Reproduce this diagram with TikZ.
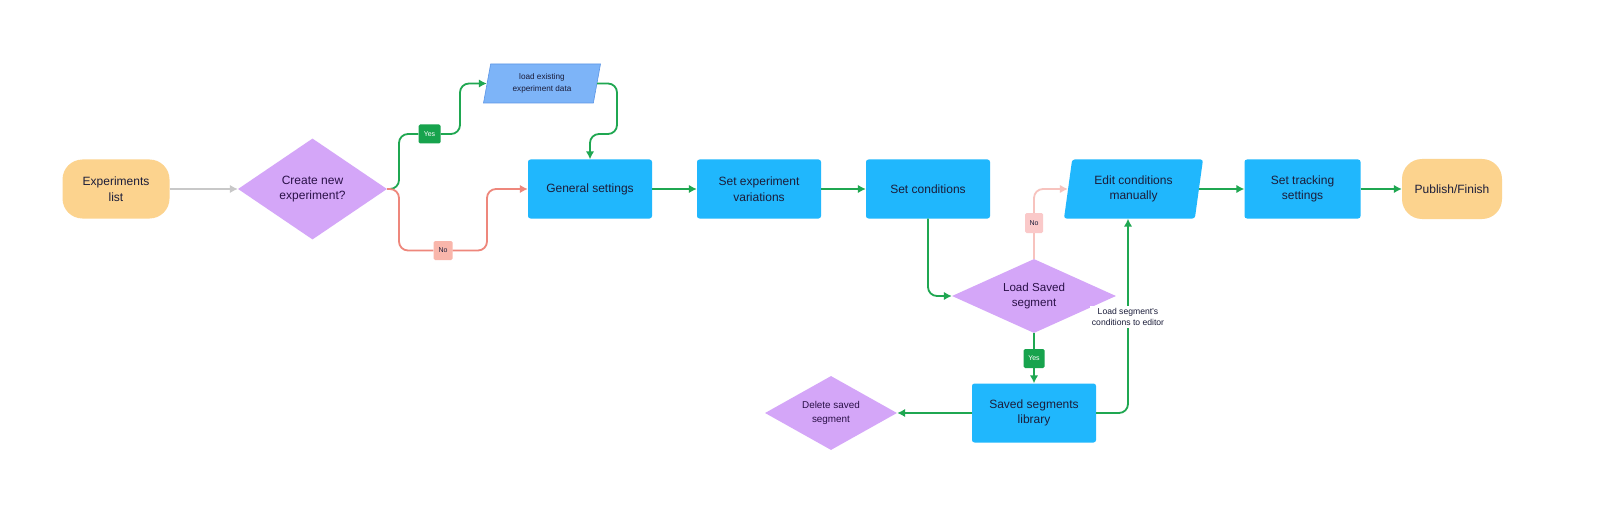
\documentclass[tikz,border=0pt]{standalone}
\usepackage{fontspec}
\setmainfont{Liberation Sans}
\usetikzlibrary{shapes.geometric,arrows.meta}
\definecolor{cOrange}{HTML}{FCD38E}
\definecolor{cPurple}{HTML}{D4A6F8}
\definecolor{cBlue}{HTML}{20B7FD}
\definecolor{cLoad}{HTML}{7DB4F8}
\definecolor{cLoadB}{HTML}{5B95E6}
\definecolor{cGreen}{HTML}{1FA751}
\definecolor{cGreenL}{HTML}{17A34D}
\definecolor{cRed}{HTML}{EE877C}
\definecolor{cRedL}{HTML}{F9B6AB}
\definecolor{cPink}{HTML}{F7C3BE}
\definecolor{cPinkL}{HTML}{FAC9C9}
\definecolor{cGrey}{HTML}{C8C8C8}
\definecolor{cText}{HTML}{1B1D3A}
\definecolor{cPText}{HTML}{2A1148}
\begin{document}
\begin{tikzpicture}[x=1pt,y=-1pt,
  fbig/.style={font=\fontsize{12}{15.5}\selectfont},
  term/.style={fill=cOrange, rounded corners=20pt, minimum height=59pt, inner sep=0pt, align=center, fbig, text=cText},
  proc/.style={fill=cBlue, rounded corners=2.5pt, minimum height=59pt, inner sep=0pt, align=center, fbig, text=cText},
  dec/.style={diamond, fill=cPurple, inner sep=0pt, align=center, text=cPText},
  io/.style={trapezium, trapezium left angle=#1, trapezium right angle=180-#1, trapezium stretches body, inner sep=0pt, align=center},
  lbl/.style={rounded corners=1.5pt, inner sep=0pt, font=\fontsize{7}{8}\selectfont},
  yeslbl/.style={lbl, fill=cGreenL, text=white, minimum width=22pt, minimum height=19pt},
  nolbl/.style={lbl, fill=#1, text=cText, minimum width=19pt, minimum height=19pt},
  conn/.style={line width=1.8pt, rounded corners=9pt},
  arr/.style={conn, -{Latex[length=8pt,width=8.5pt]}}
]
\useasboundingbox[fill=white] (0,0) rectangle (1600,513);

% nodes
\node[term, minimum width=107pt] (EL) at (116,189) {Experiments\\list};
\node[dec, fbig, minimum width=149pt, minimum height=101pt, aspect=1.5] (CNE) at (312.5,189) {Create new\\experiment?};
\node[io=70, fill=cLoad, draw=cLoadB, line width=0.6pt, minimum width=117pt, minimum height=39pt,
      text=cText, font=\fontsize{8.2}{12}\selectfont] (LED) at (542,83.5) {load existing\\experiment data};
\node[proc, minimum width=124pt] (GS) at (590,189) {General settings};
\node[proc, minimum width=124pt] (SEV) at (759,189) {Set experiment\\variations};
\node[proc, minimum width=124pt] (SC) at (928,189) {Set conditions};
\node[dec, font=\fontsize{11.6}{15.3}\selectfont, minimum width=164pt, minimum height=74pt, aspect=2] (LSS) at (1034,296) {Load Saved\\segment};
\node[io=73, fill=cBlue, rounded corners=2.5pt, minimum width=139pt, minimum height=59pt, fbig, text=cText] (ECM) at (1133.5,189) {Edit conditions\\manually};
\node[proc, minimum width=116pt] (STS) at (1302.5,189) {Set tracking\\settings};
\node[term, minimum width=100pt, minimum height=60pt] (PF) at (1452,189) {Publish/Finish};
\node[proc, minimum width=124pt] (SSL) at (1034,413) {Saved segments\\library};
\node[dec, font=\fontsize{9.9}{14}\selectfont, minimum width=132pt, minimum height=74pt, aspect=2] (DSS) at (831,413) {Delete saved\\segment};

% labels on connectors
\node[yeslbl] (Y1) at (429.5,134) {Yes};
\node[nolbl=cRedL] (N1) at (443,250.5) {No};
\node[nolbl=cPinkL, minimum width=18pt, minimum height=20pt] (N2) at (1034,223) {No};
\node[yeslbl, minimum width=21pt] (Y3) at (1034,358.5) {Yes};

% connectors
\draw[arr, cGrey] (EL.east) -- (CNE.west);
\draw[conn, cGreen] (CNE.east) -- (399,189) |- (Y1.west);
\draw[arr, cGreen] (Y1.east) -- (460,134) |- (LED.west);
\draw[arr, cGreen] (LED.east) -- (617,83.5) -- (617,134) -| (GS.north);
\draw[conn, cRed] (CNE.east) -- (399,189) |- (N1.west);
\draw[arr, cRed] (N1.east) -- (487,250.5) |- (GS.west);
\draw[arr, cGreen] (GS.east) -- (SEV.west);
\draw[arr, cGreen] (SEV.east) -- (SC.west);
\draw[arr, cGreen] (SC.south) |- (LSS.west);
\draw[conn, cPink] (LSS.north) -- (N2.south);
\draw[arr, cPink] (N2.north) |- (ECM.west);
\draw[conn, cGreen] (LSS.south) -- (Y3.north);
\draw[arr, cGreen] (Y3.south) -- (SSL.north);
\draw[arr, cGreen] (SSL.west) -- (DSS.east);
\coordinate (LC) at (1128,317);
\draw[arr, cGreen] (SSL.east) -| (LC |- ECM.south);
\node[fill=white, inner sep=1.5pt, align=center, text=cText, font=\fontsize{8.6}{11.7}\selectfont] (LT) at (LC) {Load segment’s\\conditions to editor};
\draw[arr, cGreen] (ECM.east) -- (STS.west);
\draw[arr, cGreen] (STS.east) -- (PF.west);
\end{tikzpicture}
\end{document}
